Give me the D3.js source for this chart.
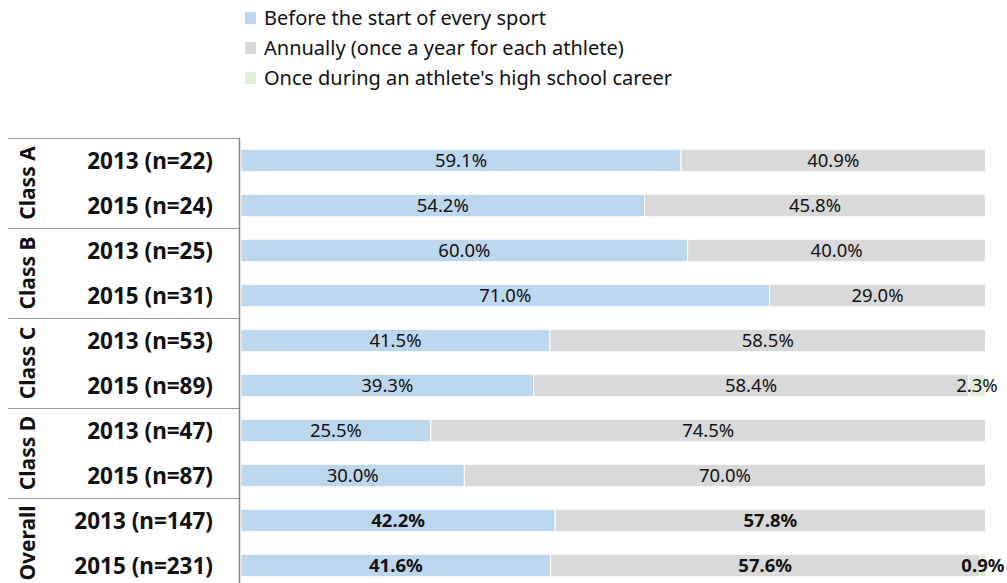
<!DOCTYPE html>
<html>
<head>
<meta charset="utf-8">
<script src="https://cdn.jsdelivr.net/npm/d3@7"></script>
<style>
  body { margin: 0; background: #fff; }
  text { font-family: "Noto Sans", sans-serif; }
</style>
</head>
<body>
<svg class="graphic" width="1007" height="583"></svg>
<script>
var groups = ["Class A", "Class B", "Class C", "Class D", "Overall"];
var rowLabels = ["2013 (n=22)", "2015 (n=24)", "2013 (n=25)", "2015 (n=31)", "2013 (n=53)",
                 "2015 (n=89)", "2013 (n=47)", "2015 (n=87)", "2013 (n=147)", "2015 (n=231)"];
var beforeSport = [59.1, 54.2, 60.0, 71.0, 41.5, 39.3, 25.5, 30.0, 42.2, 41.6];
var annually    = [40.9, 45.8, 40.0, 29.0, 58.5, 58.4, 74.5, 70.0, 57.8, 57.6];
var onceCareer  = [0, 0, 0, 0, 0, 2.3, 0, 0, 0, 0.9];
var seriesNames = ["Before the start of every sport", "Annually (once a year for each athlete)",
                   "Once during an athlete's high school career"];
var colours = ["#bdd7ee", "#d9d9d9", "#e2efda"];

var svg = d3.select(".graphic");

var x = d3.scaleLinear().domain([0, 100]).range([241, 985.5]);
var y = d3.scaleBand().domain(d3.range(rowLabels.length)).range([138, 588]).paddingInner(0.5).paddingOuter(0.25);
var step = y.step();
var plotTop = y.range()[0];

// build stacked rows
var rows = rowLabels.map(function(label, i) {
    return { label: label, before: beforeSport[i], annual: annually[i], once: onceCareer[i] };
});
var stack = d3.stack().keys(["before", "annual", "once"])(rows);

// legend
var legend = svg.selectAll(".legend")
    .data(seriesNames)
    .enter()
    .append("g")
    .attr("transform", function(d, i) { return "translate(245," + (18 + i * 30) + ")"; });
legend.append("rect")
    .attr("x", 0).attr("y", -6).attr("width", 11).attr("height", 12)
    .attr("fill", function(d, i) { return colours[i]; });
legend.append("text")
    .attr("x", 19).attr("y", 0).attr("dy", "0.35em")
    .style("font-size", "20px").attr("fill", "#111")
    .text(function(d) { return d; });

// bars
var layer = svg.selectAll(".layer")
    .data(stack)
    .enter()
    .append("g")
    .attr("fill", function(d, i) { return colours[i]; });

layer.selectAll("rect")
    .data(function(d) { return d.map(function(v, i) { return { v: v, i: i }; }); })
    .enter()
    .filter(function(d) { return d.v[1] - d.v[0] > 0; })
    .append("rect")
    .attr("x", function(d) { return x(d.v[0]); })
    .attr("y", function(d) { return y(d.i); })
    .attr("width", function(d) { return x(d.v[1]) - x(d.v[0]); })
    .attr("height", y.bandwidth())
    .attr("stroke", "#fff")
    .attr("stroke-width", 1);

// value labels
layer.selectAll("text")
    .data(function(d) { return d.map(function(v, i) { return { v: v, i: i }; }); })
    .enter()
    .filter(function(d) { return d.v[1] - d.v[0] > 0; })
    .append("text")
    .attr("x", function(d) { return (x(d.v[0]) + x(d.v[1])) / 2; })
    .attr("y", function(d) { return y(d.i) + y.bandwidth() / 2; })
    .attr("dy", "0.36em")
    .attr("text-anchor", "middle")
    .attr("fill", "#111")
    .style("font-size", "18.5px")
    .style("font-weight", function(d) { return d.i >= 8 ? "bold" : "normal"; })
    .text(function(d) { return (d.v[1] - d.v[0]).toFixed(1) + "%"; });

// row labels
svg.selectAll(".rowlabel")
    .data(rowLabels)
    .enter()
    .append("text")
    .attr("x", 213)
    .attr("y", function(d, i) { return y(i) + y.bandwidth() / 2; })
    .attr("dy", "0.36em")
    .attr("text-anchor", "end")
    .attr("fill", "#111")
    .style("font-size", "22.5px")
    .style("font-weight", "bold")
    .text(function(d) { return d; });

// group separators and labels
svg.selectAll(".sep")
    .data(groups)
    .enter()
    .append("line")
    .attr("x1", 8).attr("x2", 239)
    .attr("y1", function(d, i) { return plotTop + i * step * 2 + 0.5; })
    .attr("y2", function(d, i) { return plotTop + i * step * 2 + 0.5; })
    .attr("stroke", "#999").attr("stroke-width", 1.2);

svg.selectAll(".grouplabel")
    .data(groups)
    .enter()
    .append("text")
    .attr("transform", function(d, i) {
        return "translate(27," + (plotTop + i * step * 2 + step) + ") rotate(-90)"; })
    .attr("dy", "0.36em")
    .attr("text-anchor", "middle")
    .attr("fill", "#111")
    .style("font-size", "21px")
    .style("font-weight", "bold")
    .text(function(d) { return d; });

svg.append("line")
    .attr("x1", 239.5).attr("x2", 239.5)
    .attr("y1", plotTop).attr("y2", 588)
    .attr("stroke", "#888").attr("stroke-width", 1.5);
</script>
</body>
</html>
